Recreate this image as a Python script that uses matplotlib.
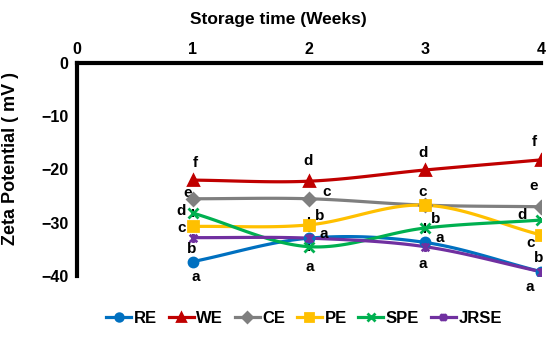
import matplotlib.pyplot as plt
import numpy as np
from matplotlib.path import Path

plt.rcParams['font.family'] = ['Liberation Sans', 'DejaVu Sans']
plt.rcParams['font.weight'] = 'bold'

weeks = [1, 2, 3, 4]
series = ['RE', 'WE', 'CE', 'PE', 'SPE', 'JRSE']
zeta = {
    'RE':   [-37.3, -32.9, -33.7, -39.2],
    'WE':   [-22.0, -22.2, -20.1, -18.2],
    'CE':   [-25.5, -25.5, -26.7, -27.0],
    'PE':   [-30.7, -30.4, -26.7, -32.3],
    'SPE':  [-28.2, -34.5, -31.0, -29.5],
    'JRSE': [-32.8, -32.9, -34.5, -39.2],
}
err = {
    'RE':   [0.9, 0.5, 0.6, 0.4],
    'WE':   [0.6, 0.5, 0.6, 0.4],
    'CE':   [0.6, 0.6, 0.4, 0.4],
    'PE':   [0.9, 1.4, 1.2, 0.9],
    'SPE':  [0.8, 0.8, 0.9, 0.5],
    'JRSE': [0.6, 0.6, 0.6, 0.5],
}
colors = {'RE': '#0070C0', 'WE': '#C00000', 'CE': '#7F7F7F',
          'PE': '#FFC000', 'SPE': '#00B050', 'JRSE': '#7030A0'}

# Excel-like "star": an x with a vertical bar through it
star = Path([(-1, -1), (1, 1), (-1, 1), (1, -1), (0, -1.2), (0, 1.2)],
            [Path.MOVETO, Path.LINETO] * 3)
markers = {'RE': 'o', 'WE': '^', 'CE': 'D', 'PE': 's', 'SPE': 'x', 'JRSE': star}

# significance letters: (week, zeta, letter)
letters = [
    (1.02, -18.8, 'f'), (0.95, -24.5, 'e'), (0.90, -27.8, 'd'), (0.90, -30.9, 'c'),
    (0.99, -35.0, 'b'), (1.02, -40.2, 'a'),
    (1.99, -18.5, 'd'), (2.15, -24.3, 'c'), (2.09, -28.8, 'b'), (2.13, -32.2, 'a'),
    (2.01, -38.3, 'a'),
    (2.98, -16.9, 'd'), (2.98, -24.3, 'c'), (3.09, -29.3, 'b'), (3.13, -32.9, 'a'),
    (2.98, -37.7, 'a'),
    (3.94, -14.8, 'f'), (3.94, -23.1, 'e'), (3.84, -28.6, 'd'), (3.91, -33.9, 'c'),
    (3.98, -36.6, 'b'), (3.90, -42.0, 'a'),
]


def smooth(x, y, n=40):
    # Catmull-Rom curve through the points (like Excel's smoothed line)
    x = np.asarray(x, float)
    y = np.asarray(y, float)
    px = np.concatenate([[2 * x[0] - x[1]], x, [2 * x[-1] - x[-2]]])
    py = np.concatenate([[2 * y[0] - y[1]], y, [2 * y[-1] - y[-2]]])
    t = np.linspace(0, 1, n)
    xs, ys = [], []
    for i in range(1, len(px) - 2):
        for p, out in ((px, xs), (py, ys)):
            p0, p1, p2, p3 = p[i - 1], p[i], p[i + 1], p[i + 2]
            out.append(0.5 * (2 * p1 + (-p0 + p2) * t
                              + (2 * p0 - 5 * p1 + 4 * p2 - p3) * t ** 2
                              + (-p0 + 3 * p1 - 3 * p2 + p3) * t ** 3))
    return np.concatenate(xs), np.concatenate(ys)


fig = plt.figure(figsize=(5.5, 3.48), dpi=100)
ax = fig.add_axes([0.14, 0.207, 0.8436, 0.612])

handles = []
for s in series:
    c = colors[s]
    xs, ys = smooth(weeks, zeta[s])
    ax.plot(xs, ys, color=c, lw=2.3, zorder=3)
    ax.errorbar(weeks, zeta[s], yerr=err[s], fmt='none', ecolor='black',
                elinewidth=1.5, capsize=0, zorder=2)
    ax.plot(weeks, zeta[s], ls='none', marker=markers[s], color=c, ms=6.5,
            mew=2, zorder=4)
    h, = ax.plot([], [], color=c, lw=2.3, marker=markers[s], ms=5.5, mew=2)
    handles.append(h)

for wx, wy, t in letters:
    ax.text(wx, wy, t, ha='center', va='center', fontsize=11, fontweight='bold')

ax.set_xlim(0, 4)
ax.set_ylim(-40, 0)
ax.set_xticks([0, 1, 2, 3, 4])
ax.set_yticks([0, -10, -20, -30, -40])
ax.set_yticklabels(['0', '\u221210', '\u221220', '\u221230', '\u221240'])
ax.xaxis.tick_top()
ax.xaxis.set_label_position('top')
ax.tick_params(axis='x', length=0, labelsize=11.5, pad=4)
ax.tick_params(axis='y', length=0, labelsize=11.5, pad=6)
for lab in ax.get_xticklabels() + ax.get_yticklabels():
    lab.set_fontweight('bold')
ax.spines['bottom'].set_visible(False)
ax.spines['right'].set_visible(False)
ax.spines['top'].set_linewidth(3)
ax.spines['left'].set_linewidth(3)
ax.set_xlabel('Storage time (Weeks)', fontsize=12.5, fontweight='bold')
ax.xaxis.set_label_coords(0.433, 1.185)
ax.set_ylabel('Zeta Potential ( mV )', fontsize=13, fontweight='bold')
ax.yaxis.set_label_coords(-0.125, 0.55)

fig.legend(handles, series, loc='center', bbox_to_anchor=(0.553, 0.086), ncol=6,
           frameon=False, handlelength=1.5, handletextpad=0.15,
           columnspacing=0.7, prop={'weight': 'bold', 'size': 12})

fig.savefig('out.png', dpi=100)
